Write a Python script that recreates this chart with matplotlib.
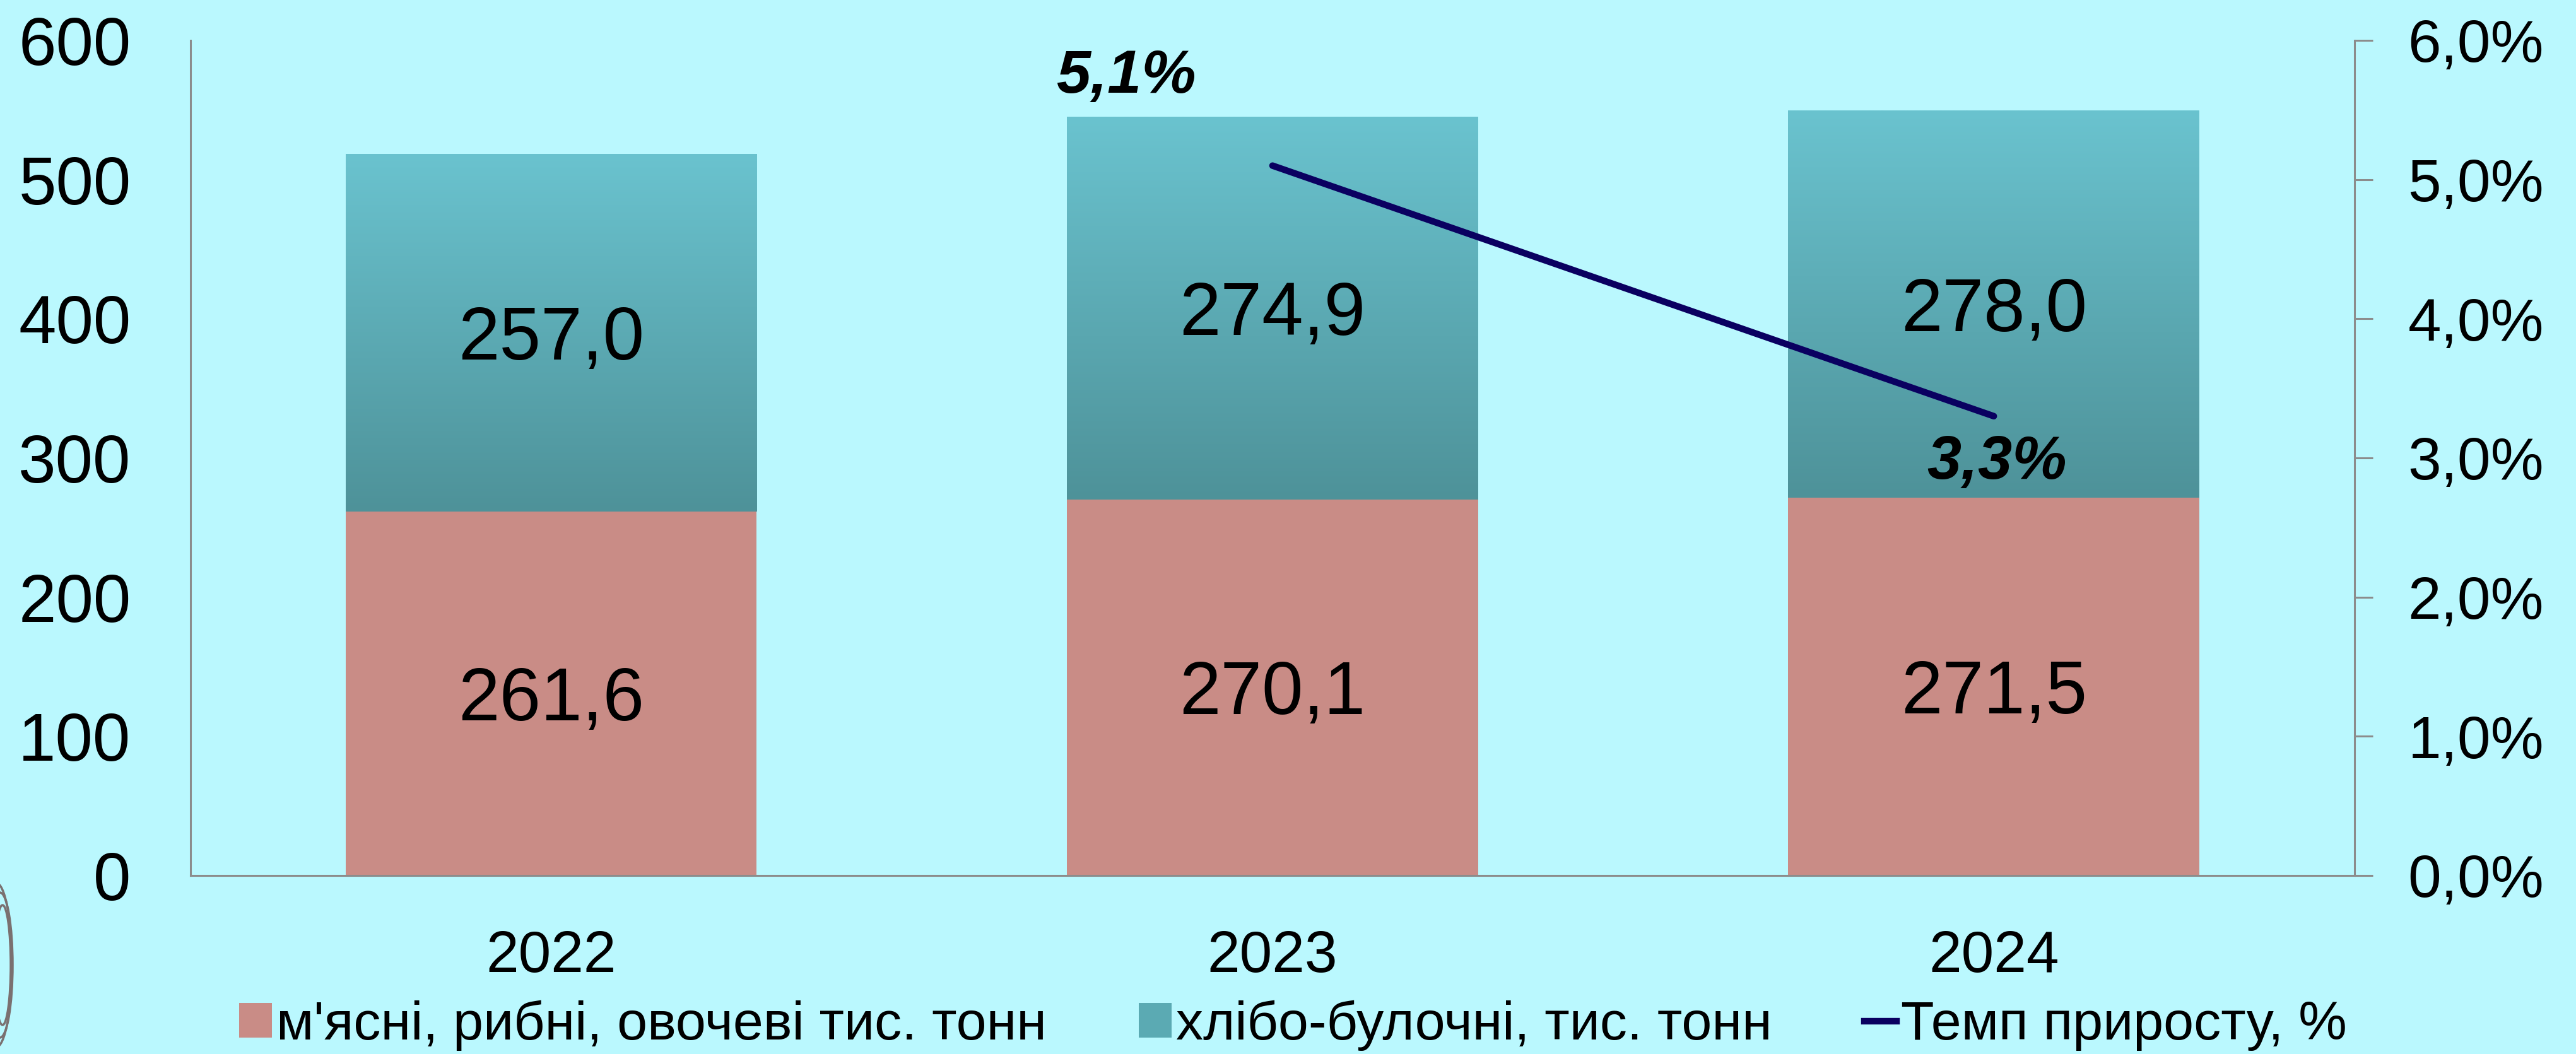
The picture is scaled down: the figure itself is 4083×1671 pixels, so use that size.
import matplotlib
matplotlib.use('Agg')
import matplotlib.pyplot as plt
import numpy as np
from matplotlib.patches import Patch, Ellipse
from matplotlib.lines import Line2D
from matplotlib.colors import LinearSegmentedColormap
from matplotlib.ticker import FuncFormatter

plt.rcParams['font.family'] = ['Liberation Sans', 'DejaVu Sans']

years = ['2022', '2023', '2024']
meat = [261.6, 270.1, 271.5]
bread = [257.0, 274.9, 278.0]
growth = [np.nan, 5.1, 3.3]

meat_label = "м'ясні, рибні, овочеві тис. тонн"
bread_label = 'хлібо-булочні, тис. тонн'
growth_label = 'Темп приросту, %'

bg = '#BAF8FE'
salmon = '#C98C86'
teal_top = '#6AC3CF'
teal_bot = '#4E9299'
navy = '#0A0060'
grey = '#8C8C8C'

fig = plt.figure(figsize=(40.83, 16.71), dpi=100, facecolor=bg)
ax = fig.add_axes([0.07397, 0.16936, 0.9140 - 0.07397, 0.9617 - 0.16936])
ax.set_facecolor(bg)

x = np.arange(len(years))
w = 0.57
bars1 = ax.bar(x, meat, w, color=salmon, zorder=2)
bars2 = ax.bar(x, bread, w, bottom=meat, color='none', zorder=2)

# vertical gradient fill for the upper bars
cmap = LinearSegmentedColormap.from_list('tg', [teal_bot, teal_top])
grad = np.linspace(0, 1, 256).reshape(-1, 1)
for b in bars2:
    x0, y0 = b.get_x(), b.get_y()
    im = ax.imshow(grad, cmap=cmap, aspect='auto', origin='lower',
                   extent=[x0, x0 + b.get_width(), y0, y0 + b.get_height()], zorder=2)
    im.set_clip_path(b)

for i in range(len(years)):
    ax.annotate(f'{meat[i]:.1f}'.replace('.', ','), (x[i], meat[i] / 2), xytext=(0, -12),
                textcoords='offset pixels', ha='center', va='center', fontsize=85, zorder=3)
    ax.annotate(f'{bread[i]:.1f}'.replace('.', ','), (x[i], meat[i] + bread[i] / 2),
                xytext=(0, -12), textcoords='offset pixels', ha='center', va='center',
                fontsize=85, zorder=3)

ax.set_xlim(-0.5, 2.5)
ax.set_ylim(0, 600)
ax.set_yticks(range(0, 601, 100))
ax.set_xticks(x)
ax.set_xticklabels(years)
ax.tick_params(axis='y', length=0, labelsize=77, pad=68)
ax.tick_params(axis='x', length=0, labelsize=67, pad=62)
for s in ['top', 'right']:
    ax.spines[s].set_visible(False)
for s in ['left', 'bottom']:
    ax.spines[s].set_color(grey)
    ax.spines[s].set_linewidth(2.2)

ax2 = ax.twinx()
ax2.plot(x, growth, color=navy, lw=7.5, solid_capstyle='round', zorder=4)
ax2.set_ylim(0, 6)
ax2.set_yticks(range(0, 7))
ax2.yaxis.set_major_formatter(FuncFormatter(lambda v, p: f'{v:.1f}%'.replace('.', ',')))
ax2.tick_params(axis='y', length=21, width=2.2, color=grey, labelsize=68, pad=40)
for s in ['top', 'left', 'bottom']:
    ax2.spines[s].set_visible(False)
ax2.spines['right'].set_color(grey)
ax2.spines['right'].set_linewidth(2.2)

ax2.annotate('5,1%', (x[1], growth[1]), xytext=(-232, 141), textcoords='offset pixels',
             ha='center', va='center', fontsize=70, fontweight='bold', fontstyle='italic')
ax2.annotate('3,3%', (x[2], growth[2]), xytext=(5, -74), textcoords='offset pixels',
             ha='center', va='center', fontsize=70, fontweight='bold', fontstyle='italic')

handles = [Patch(facecolor=salmon), Patch(facecolor='#5BAAB3'),
           Line2D([0], [0], color=navy, lw=7.5)]
fig.legend(handles, [meat_label, bread_label, growth_label], loc='lower center',
           bbox_to_anchor=(0.502, 0.003), ncol=3, frameon=False, fontsize=62,
           handlelength=0.6, handleheight=0.6, handletextpad=0.08, columnspacing=1.7,
           borderpad=0, borderaxespad=0)

# bits of the decoration at the lower left edge
for dx, ww, hh in [(0, 40, 230), (4, 26, 190), (-6, 50, 260)]:
    fig.patches.append(Ellipse((dx, 1671 - 1530), ww, hh, transform=None, fill=False,
                               ec='#7A7070', lw=2.5))

fig.savefig('out.png', dpi=100, facecolor=bg)
